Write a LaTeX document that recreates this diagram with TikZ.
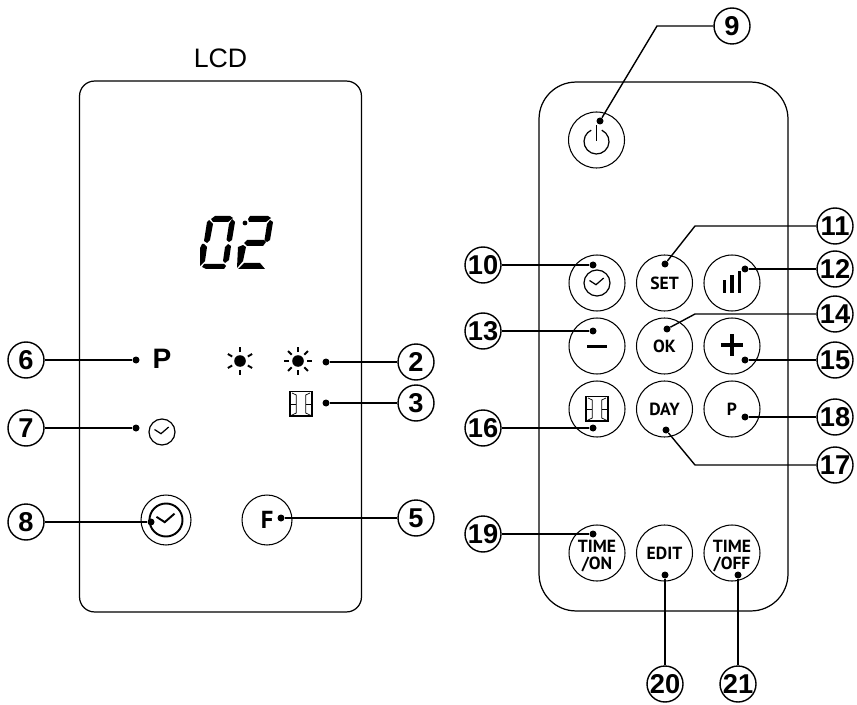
\documentclass[tikz,border=0pt]{standalone}
\usepackage{fontspec}
\setmainfont{Liberation Sans}
\newfontfamily\btnfont{PT Sans}
\usetikzlibrary{positioning}
\tikzset{
  callout/.style={circle, draw, line width=.8pt, inner sep=0pt, minimum size=.72cm, font=\bfseries\fontsize{15.5}{16}\selectfont},
  btn/.style={circle, draw, line width=.6pt, inner sep=0pt, minimum size=1.12cm, align=center, font=\btnfont\bfseries\fontsize{10}{9.2}\selectfont},
  lcdbtn/.style={btn, minimum size=1cm},
  panel/.style={draw, line width=.7pt, inner sep=0pt},
  tip/.style={circle, fill, inner sep=0pt, minimum size=.14cm},
  leader/.style={line width=.8pt},
  icon/.style={line width=1.8pt},
  clockicon/.pic={
    \draw (0,0) circle[radius=13];
    \draw (-7.5,-2.5) -- (-1,1.7) -- (6.7,-5);
  },
  powericon/.pic={
    \draw (0,0) ++(-65:12.5) arc[start angle=-65, end angle=245, radius=12.5];
    \draw (0,-16) -- (0,0);
  },
  sunicon/.pic={
    \fill (0,0) circle[radius=5.8];
    \draw[line width=1.1pt] (0,-9) -- (0,-14);
    \draw[line width=1.1pt] (0,9) -- (0,14);
    \draw[line width=1.1pt] (30:9) -- (30:14);
    \draw[line width=1.1pt] (150:9) -- (150:14);
    \draw[line width=1.1pt] (210:9) -- (210:14);
    \draw[line width=1.1pt] (330:9) -- (330:14);
  },
  bigsunicon/.pic={
    \fill (0,0) circle[radius=5.8];
    \draw[line width=1.1pt] (0,-9) -- (0,-14);
    \draw[line width=1.1pt] (0,9) -- (0,14);
    \draw[line width=1.1pt] (-9,0) -- (-14,0);
    \draw[line width=1.1pt] (9,0) -- (14,0);
    \draw[line width=1.1pt] (45:9) -- (45:14);
    \draw[line width=1.1pt] (135:9) -- (135:14);
    \draw[line width=1.1pt] (225:9) -- (225:14);
    \draw[line width=1.1pt] (315:9) -- (315:14);
  },
  shapeicon/.pic={
    \draw[line width=.8pt] (-11,-12.5) rectangle (11,12.5);
    \draw[line width=.4pt] (-9,-11) -- (-4.7,-9) -- (-4.7,9) -- (-10,11.5);
    \draw[line width=.4pt] (9,-11) -- (4.7,-9) -- (4.7,9) -- (10,11.5);
    \draw[line width=.4pt] (-10,11.5) -- (10,11.5);
    \draw[line width=.4pt] (-11,0) -- (-4.7,0);
    \draw[line width=.4pt] (4.7,0) -- (11,0);
  }
}
\begin{document}
\begin{tikzpicture}[x=.02cm, y=-.02cm, node distance=1.35cm]
  \useasboundingbox (0,0) rectangle (857,705);

  \node[panel, rounded corners=.3cm, minimum width=5.64cm, minimum height=10.62cm] (lcd) at (220.5,346.5) {};
  \node[panel, rounded corners=.74cm, minimum width=4.98cm, minimum height=10.58cm] (remote) at (663.5,346.5) {};
  \node[above=.13cm of lcd, font=\fontsize{15.2}{16}\selectfont] (lcdlabel) {LCD};

  \fill (211,219) -- (215,216) -- (230,216) -- (233,218) -- (228,222) -- (213,222) -- cycle;
  \fill (207,222) -- (209,220) -- (213,224) -- (210,240) -- (207,243) -- (204,241) -- cycle;
  \fill (232,219) -- (235,222) -- (232,240) -- (229,242) -- (226.5,240) -- (229,224) -- cycle;
  \fill (202,244) -- (204,244) -- (207,247) -- (205,261) -- (200,266) -- (200,248) -- cycle;
  \fill (228,244) -- (231,246) -- (229,260) -- (225,263) -- (223,261) -- (225,247) -- cycle;
  \fill (204,264) -- (224,264) -- (226,266) -- (224,269) -- (206,269) -- (202,267) -- cycle;
  \fill (245,223) circle[radius=2.4];
  \fill (250,216) -- (268,216) -- (271,218) -- (266,222) -- (249,222) -- (248,219) -- cycle;
  \fill (270,220) -- (273,222) -- (270,240) -- (267,242) -- (264.5,240) -- (267,224) -- cycle;
  \fill (247,240) -- (264,240) -- (266,242) -- (263,246) -- (247,246) -- (244,243) -- cycle;
  \fill (243,245) -- (246,247) -- (243,261) -- (237,268) -- (238,247) -- cycle;
  \fill (244,263) -- (260,263) -- (265,269) -- (238,269) -- cycle;

  \node[font=\bfseries\fontsize{16}{16}\selectfont] (lcdp) at (162,359) {P};
  \pic at (240,361) {sunicon};
  \pic at (298,361) {bigsunicon};
  \pic at (301,404) {shapeicon};
  \pic[line width=.7pt] at (162,432) {clockicon};

  \node[lcdbtn] (btntimer) at (166,520) {};
  \pic[scale=1.27, line width=1.1pt] at (btntimer) {clockicon};
  \node[lcdbtn, font=\btnfont\bfseries\fontsize{14}{14}\selectfont] (btnf) at (267,520) {F};

  \node[btn] (btnpower) at (596.5,140) {};
  \node[btn] (btnclock) at (597,283) {};
  \node[btn, right of=btnclock] (btnset) {SET};
  \node[btn, right of=btnset] (btnbars) {};
  \node[btn] (btnminus) at (597,346) {};
  \node[btn, right of=btnminus] (btnok) {OK};
  \node[btn, right of=btnok] (btnplus) {};
  \node[btn] (btnshape) at (597,409) {};
  \node[btn, right of=btnshape] (btnday) {DAY};
  \node[btn, right of=btnday] (btnp) {P};
  \node[btn] (btnon) at (597,553) {\rule{0pt}{10.5pt}TIME\\/ON};
  \node[btn, right of=btnon] (btnedit) {EDIT};
  \node[btn, right of=btnedit] (btnoff) {\rule{0pt}{10.5pt}TIME\\/OFF};

  \pic[line width=.7pt] at (596.5,141.5) {powericon};
  \pic[line width=.7pt] at (btnclock) {clockicon};
  \pic at (btnshape) {shapeicon};
  \draw[icon] (btnbars) ++(-7.3,10) -- ++(0,-12.5);
  \draw[icon] (btnbars) ++(0,10) -- ++(0,-18);
  \draw[icon] (btnbars) ++(7.3,10) -- ++(0,-21.5);
  \draw[icon] (btnminus) ++(-10,.5) -- ++(20,0);
  \draw[icon] (btnplus) ++(-11,-1) -- ++(22,0);
  \draw[icon] (btnplus) ++(0,-12) -- ++(0,22);

  \node[callout] (c2) at (416,362) {2};
  \node[callout] (c3) at (416,403) {3};
  \node[callout] (c5) at (416,518) {5};
  \node[callout] (c6) at (26,360) {6};
  \node[callout] (c7) at (26,428) {7};
  \node[callout] (c8) at (26,522) {8};
  \node[callout] (c9) at (732,26) {9};
  \node[callout] (c10) at (483,265) {10};
  \node[callout] (c11) at (835,226) {11};
  \node[callout] (c12) at (835,269) {12};
  \node[callout] (c13) at (483,331) {13};
  \node[callout] (c14) at (835,314) {14};
  \node[callout] (c15) at (835,360) {15};
  \node[callout] (c16) at (483,428) {16};
  \node[callout] (c17) at (835,465) {17};
  \node[callout] (c18) at (835,417) {18};
  \node[callout] (c19) at (483,534) {19};
  \node[callout] (c20) at (665,684) {20};
  \node[callout] (c21) at (738,684) {21};

  \node[tip] (t2) at (326,362) {};
  \node[tip] (t3) at (326,403) {};
  \node[tip] (t5) at (281,518) {};
  \node[tip] (t6) at (136,360) {};
  \node[tip] (t7) at (136,428) {};
  \node[tip] (t8) at (151,522) {};
  \node[tip] (t9) at (600,121) {};
  \node[tip] (t10) at (593,265) {};
  \node[tip] (t11) at (665,264) {};
  \node[tip] (t12) at (745,269) {};
  \node[tip] (t13) at (593,331) {};
  \node[tip] (t14) at (667,329) {};
  \node[tip] (t15) at (745,360) {};
  \node[tip] (t16) at (593,428) {};
  \node[tip] (t17) at (666,430) {};
  \node[tip] (t18) at (745,417) {};
  \node[tip] (t19) at (593,534) {};
  \node[tip] (t20) at (665,575) {};
  \node[tip] (t21) at (738,575) {};

  \coordinate (b9) at (657,26);
  \coordinate (b11) at (695,226);
  \coordinate (b14) at (695,314);
  \coordinate (b17) at (695,465);

  \draw[leader] (t2) -- (c2);
  \draw[leader] (t3) -- (c3);
  \draw[leader] (t5) -- (c5);
  \draw[leader] (t6) -- (c6);
  \draw[leader] (t7) -- (c7);
  \draw[leader] (t8) -- (c8);
  \draw[leader] (t9) -- (b9) -- (c9);
  \draw[leader] (t10) -- (c10);
  \draw[leader] (t11) -- (b11) -- (c11);
  \draw[leader] (t12) -- (c12);
  \draw[leader] (t13) -- (c13);
  \draw[leader] (t14) -- (b14) -- (c14);
  \draw[leader] (t15) -- (c15);
  \draw[leader] (t16) -- (c16);
  \draw[leader] (t17) -- (b17) -- (c17);
  \draw[leader] (t18) -- (c18);
  \draw[leader] (t19) -- (c19);
  \draw[leader] (t20) -- (c20);
  \draw[leader] (t21) -- (c21);
\end{tikzpicture}
\end{document}
